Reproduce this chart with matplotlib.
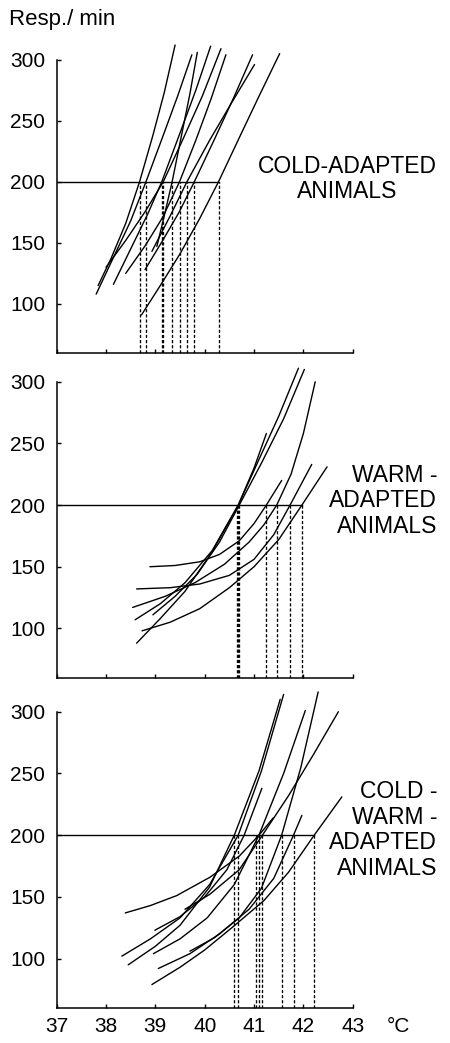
import matplotlib
matplotlib.use("Agg")
import matplotlib.pyplot as plt

plt.rcParams['font.family'] = ['Liberation Sans', 'DejaVu Sans']

# ---------------- data ----------------
y_ticks = [100, 150, 200, 250, 300]
x_ticks = [37, 38, 39, 40, 41, 42, 43]
x_tick_labels = ["37", "38", "39", "40", "41", "42", "43"]
criterion = 200  # resp./min level

# Cold-adapted animals: temperature (°C) and respiration rate per curve
cold_T = [
    [37.84, 38.10, 38.40, 38.68, 38.95, 39.18, 39.40],
    [37.80, 38.15, 38.50, 38.81, 39.15, 39.45, 39.74],
    [38.15, 38.50, 38.85, 39.13, 39.50, 39.82, 40.12],
    [38.00, 38.40, 38.80, 39.16, 39.55, 39.95, 40.33],
    [39.03, 39.18, 39.34, 39.52, 39.70, 39.85],
    [38.40, 38.80, 39.15, 39.49, 39.82, 40.13, 40.43],
    [38.93, 39.30, 39.64, 40.10, 40.55, 41.01],
    [38.79, 39.15, 39.48, 39.79, 40.20, 40.60, 40.97],
    [38.72, 39.10, 39.50, 39.90, 40.28, 40.70, 41.10, 41.52],
]
cold_V = [
    [115, 137, 166, 200, 238, 273, 312],
    [108, 138, 168, 200, 237, 270, 304],
    [116, 145, 174, 200, 240, 275, 311],
    [130, 152, 176, 200, 234, 270, 309],
    [147, 172, 200, 236, 272, 306],
    [125, 148, 171, 200, 234, 268, 304],
    [143, 172, 200, 234, 265, 296],
    [128, 152, 175, 200, 235, 270, 304],
    [91, 115, 141, 170, 200, 236, 270, 305],
]
cold_cross = [38.68, 38.81, 39.13, 39.16, 39.34, 39.49, 39.64, 39.79, 40.28]

# Warm-adapted animals
warm_T = [
    [38.62, 39.10, 39.60, 40.15, 40.68, 41.10, 41.50, 41.90],
    [38.59, 39.10, 39.60, 40.15, 40.68, 41.00, 41.25],
    [38.95, 39.40, 39.85, 40.30, 40.70, 41.15, 41.60, 42.02],
    [38.89, 39.40, 39.90, 40.30, 40.70, 41.00, 41.25, 41.56],
    [38.54, 39.20, 39.80, 40.40, 40.90, 41.20, 41.46, 41.75, 42.00, 42.24],
    [38.62, 39.30, 39.90, 40.50, 41.00, 41.40, 41.73, 42.17],
    [38.73, 39.30, 39.90, 40.50, 41.00, 41.50, 41.97, 42.48],
]
warm_V = [
    [88, 108, 130, 162, 200, 237, 272, 311],
    [107, 120, 137, 163, 200, 230, 258],
    [111, 126, 144, 170, 200, 234, 270, 310],
    [150, 151, 154, 160, 171, 185, 200, 220],
    [117, 126, 137, 152, 170, 184, 200, 225, 258, 300],
    [132, 133, 136, 143, 156, 176, 200, 233],
    [98, 105, 116, 133, 150, 172, 200, 231],
]
warm_cross = [40.66, 40.68, 40.70, 41.25, 41.46, 41.73, 41.97]

# Cold-warm-adapted animals
cw_T = [
    [38.45, 39.00, 39.50, 40.10, 40.60, 41.10, 41.53],
    [38.32, 38.90, 39.50, 40.10, 40.68, 41.15, 41.60],
    [38.39, 38.90, 39.43, 40.11, 40.70, 41.10, 41.39],
    [38.99, 39.50, 40.00, 40.45, 40.80, 41.16],
    [38.96, 39.50, 40.05, 40.60, 41.10, 41.60, 42.04],
    [39.70, 40.20, 40.70, 41.15, 41.56, 41.95, 42.30],
    [38.93, 39.50, 40.00, 40.58, 41.20, 41.70, 42.22, 42.78],
    [39.06, 39.70, 40.30, 40.90, 41.40, 41.80, 41.97],
    [39.60, 40.10, 40.70, 41.17, 41.70, 42.20, 42.71],
]
cw_V = [
    [95, 110, 127, 158, 200, 252, 310],
    [102, 116, 133, 160, 200, 252, 314],
    [137, 143, 151, 166, 183, 200, 214],
    [123, 134, 150, 172, 200, 238],
    [104, 116, 133, 160, 200, 250, 301],
    [106, 117, 133, 157, 200, 255, 316],
    [79, 93, 107, 126, 147, 170, 200, 231],
    [92, 104, 120, 140, 165, 200, 216],
    [140, 152, 172, 200, 232, 265, 300],
]
cw_cross = [40.60, 40.68, 41.04, 41.10, 41.17, 41.56, 41.80, 42.22]

panel_labels = ["COLD-ADAPTED\nANIMALS", "WARM -\nADAPTED\nANIMALS",
                "COLD -\nWARM -\nADAPTED\nANIMALS"]

# ---------------- figure ----------------
W, H = 450, 1043
fig = plt.figure(figsize=(W / 100, H / 100), dpi=100)

x_left_px, x_right_px = 56.7, 352.7
ymin, ymax = 60, 320
# (bottom pixel of axis, pixels per unit)
panel_geom = [(352.7, 1.221), (677.7, 1.233), (1008.0, 1.2346)]

panels = [(cold_T, cold_V, cold_cross), (warm_T, warm_V, warm_cross),
          (cw_T, cw_V, cw_cross)]

tick_fs = 15
for i, ((Ts, Vs, cross), (bot_px, ppu)) in enumerate(zip(panels, panel_geom)):
    hpx = (ymax - ymin) * ppu
    ax = fig.add_axes([x_left_px / W, (H - bot_px) / H,
                       (x_right_px - x_left_px) / W, hpx / H])
    ax.set_xlim(37, 43)
    ax.set_ylim(ymin, ymax)
    for s in ("top", "right"):
        ax.spines[s].set_visible(False)
    ax.spines["left"].set_bounds(ymin, 300)
    ax.spines["bottom"].set_bounds(37, 43)
    for s in ("left", "bottom"):
        ax.spines[s].set_linewidth(1.1)
    ax.patch.set_alpha(0)

    for t, v in zip(Ts, Vs):
        ax.plot(t, v, color="black", lw=1.0, clip_on=False,
                solid_capstyle="round", solid_joinstyle="round")
    # horizontal criterion line
    ax.plot([37, max(cross)], [criterion, criterion], color="black", lw=1.0)
    # dashed verticals
    for c in cross:
        ax.plot([c, c], [ymin, criterion], color="black", lw=0.95,
                linestyle=(0, (2.4, 1.5)))

    ax.set_yticks(y_ticks)
    ax.set_yticklabels([str(v) for v in y_ticks], fontsize=tick_fs)
    ax.set_xticks(x_ticks)
    if i == 2:
        ax.set_xticklabels(x_tick_labels, fontsize=tick_fs)
    else:
        ax.set_xticklabels([])
    ax.tick_params(axis="y", direction="in", length=3, width=1, pad=8.4)
    ax.tick_params(axis="x", direction="in", length=3, width=1, pad=6.3)

label_fs = 16.5
fig.text(347 / W, 1 - 179 / H, panel_labels[0], ha="center", va="center",
         multialignment="center", fontsize=label_fs, linespacing=1.15)
fig.text(437 / W, 1 - 501 / H, panel_labels[1], ha="right", va="center",
         multialignment="right", fontsize=label_fs, linespacing=1.15)
fig.text(437 / W, 1 - 830 / H, panel_labels[2], ha="right", va="center",
         multialignment="right", fontsize=label_fs, linespacing=1.15)

fig.text(9 / W, 1 - 25 / H, "Resp./ min", ha="left", va="baseline",
         fontsize=16)
fig.text(387 / W, 1 - 1031.7 / H, "°C", ha="left", va="baseline",
         fontsize=tick_fs)

fig.savefig("out.png", dpi=100)
